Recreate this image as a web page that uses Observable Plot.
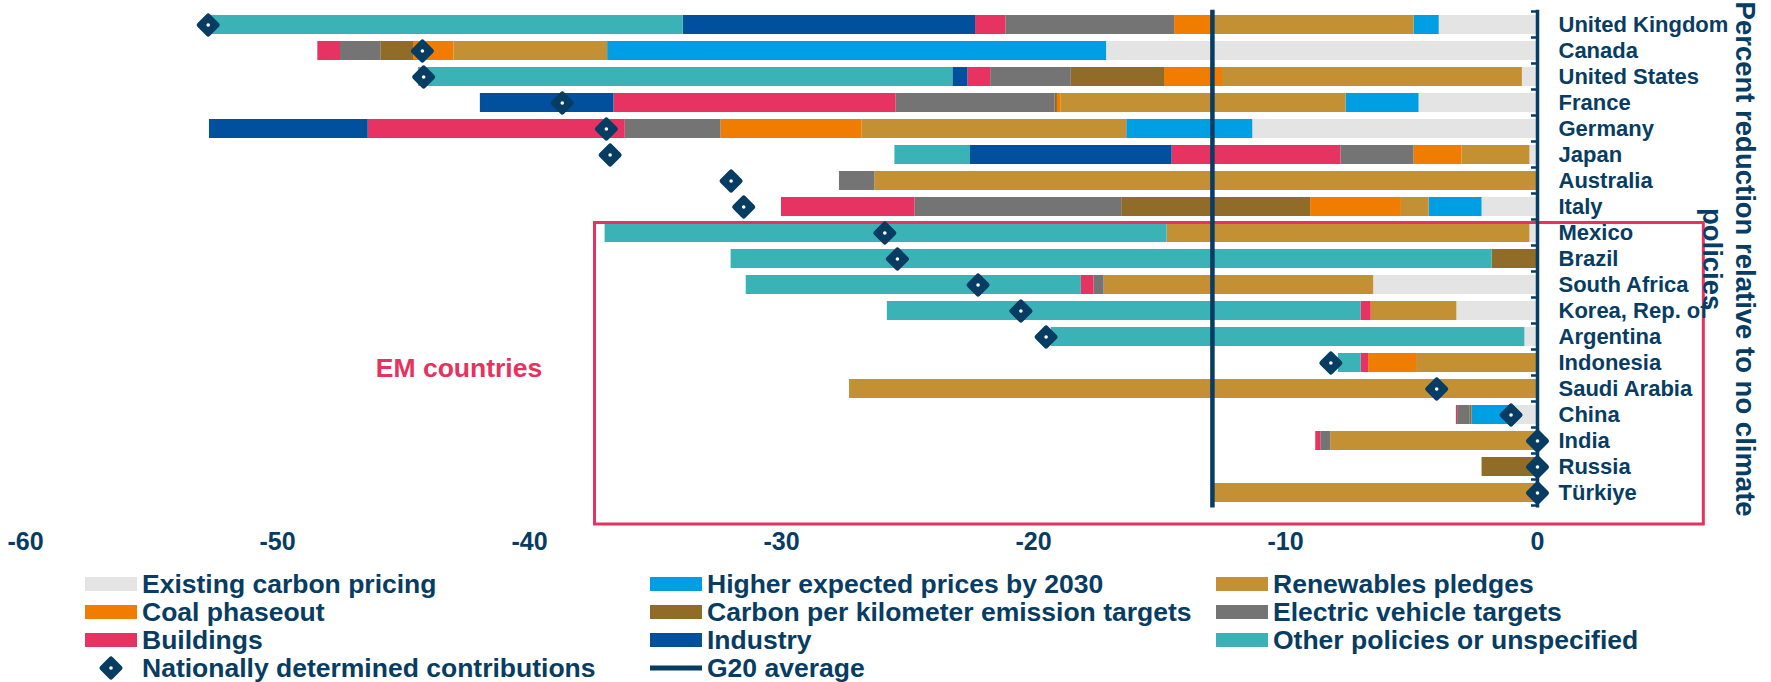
<!DOCTYPE html>
<html>
<head>
<meta charset="utf-8">
<script src="https://cdn.jsdelivr.net/npm/d3@7"></script>
<script src="https://cdn.jsdelivr.net/npm/@observablehq/plot@0.6"></script>
<style>
  html, body { margin: 0; padding: 0; background: #fff; overflow: hidden; }
  body { width: 1771px; height: 682px; font-family: "Liberation Sans", Arial, Helvetica, sans-serif; font-weight: bold; color: #073c63; }
  #chart svg { display: block; }
  #legend { position: relative; width: 1771px; height: 122px; }
  .item { position: absolute; height: 28px; display: flex; align-items: center; font-size: 26.5px; line-height: 28px; white-space: nowrap; }
  .sw { display: block; width: 52px; height: 14px; margin-right: 5px; flex: none; }
  .sym { width: 52px; height: 28px; margin-right: 5px; flex: none; display: block; }
</style>
</head>
<body>
<div id="chart"></div>
<div id="legend"></div>
<script>
// ---------------- data ----------------
const countries = ["United Kingdom", "Canada", "United States", "France", "Germany", "Japan", "Australia", "Italy",
  "Mexico", "Brazil", "South Africa", "Korea, Rep. of", "Argentina", "Indonesia", "Saudi Arabia", "China", "India", "Russia", "Türkiye"];

const categories = ["Existing carbon pricing", "Higher expected prices by 2030", "Renewables pledges",
  "Coal phaseout", "Carbon per kilometer emission targets", "Electric vehicle targets",
  "Buildings", "Industry", "Other policies or unspecified"];

const colors = ["#e4e4e4", "#009fe3", "#c39034", "#f07d00", "#916c29", "#747474", "#e63361", "#00509d", "#3ab2b6"];

// percent reduction relative to no climate policies, one value per country
const existingCarbonPricing = [-3.9, -17.1, -0.6, -4.7, -11.3, -0.3, 0, -2.2, -0.3, 0, -6.5, -3.2, -0.5, 0, 0, -1.0, 0, 0, 0];
const higherExpectedPrices  = [-1.0, -19.8, 0, -2.9, -5.0, 0, 0, -2.1, 0, 0, 0, 0, 0, 0, 0, -1.6, 0, 0, 0];
const renewablesPledges     = [-8.0, -6.1, -11.9, -11.3, -10.5, -2.7, -26.3, -1.1, -14.4, 0, -10.7, -3.4, 0, -4.8, -27.3, 0, -8.2, 0, -12.9];
const coalPhaseout          = [-1.5, -1.6, -2.3, -0.15, -5.6, -1.9, 0, -3.6, 0, 0, 0, 0, 0, -1.9, 0, 0, 0, 0, 0];
const carbonPerKm           = [0, -1.3, -3.7, -0.1, 0, 0, 0, -7.5, 0, -1.8, 0, 0, 0, 0, 0, -0.07, 0, -2.2, 0];
const evTargets             = [-6.7, -1.6, -3.2, -6.3, -3.8, -2.9, -1.4, -8.2, 0, 0, -0.4, 0, 0, 0, 0, -0.5, -0.4, 0, 0];
const buildings             = [-1.2, -0.9, -0.9, -11.2, -10.2, -6.7, 0, -5.3, 0, 0, -0.5, -0.4, 0, -0.3, 0, -0.05, -0.2, 0, 0];
const industry              = [-11.6, 0, -0.6, -5.3, -6.3, -8.0, 0, 0, 0, 0, 0, 0, 0, 0, 0, 0, 0, 0, 0];
const otherPolicies         = [-18.9, 0, -21.2, 0, 0, -3.0, 0, 0, -22.3, -30.2, -13.3, -18.8, -18.8, -0.9, 0, 0, 0, 0, 0];

const ndc = [-52.75, -44.25, -44.2, -38.7, -36.95, -36.8, -32.0, -31.5, -25.9, -25.4, -22.2, -20.5, -19.5, -8.2, -4.0, -1.05, 0, 0, 0];
const g20Average = -12.9;

const xTicks = [-60, -50, -40, -30, -20, -10, 0];
const emCountries = ["Mexico", "Brazil", "South Africa", "Korea, Rep. of", "Argentina", "Indonesia", "Saudi Arabia", "China", "India", "Russia", "Türkiye"];
const emLabel = "EM countries";
const emBoxX = [-37.4, 6.6];
const axisTitle = "Percent reduction relative to no climate\npolicies";
const ndcLabel = "Nationally determined contributions";
const g20Label = "G20 average";

// ---------------- build ----------------
const NAVY = "#073c63";
const PINK = "#e6325f";
const FONT = '"Liberation Sans", Arial, Helvetica, sans-serif';

const series = [existingCarbonPricing, higherExpectedPrices, renewablesPledges, coalPhaseout, carbonPerKm,
  evTargets, buildings, industry, otherPolicies];
const barData = [];
countries.forEach((c, i) => {
  series.forEach((s, k) => {
    if (s[i] !== 0) barData.push({country: c, category: categories[k], value: s[i]});
  });
});
const ndcData = countries.map((c, i) => ({country: c, ndc: ndc[i]}));

// rounded diamond symbol (half-diagonal = r)
const diamondSymbol = {
  draw(context, size) {
    const h = Math.sqrt(size / Math.PI);
    context.moveTo(0, -h); context.lineTo(h, 0); context.lineTo(0, h); context.lineTo(-h, 0); context.closePath();
  }
};

function findScales(args) {
  return args.find(a => a && typeof a.x === "function" && typeof a.y === "function");
}

// band-boundary tick marks on the right-hand axis
function boundaryTicks(...args) {
  const s = findScales(args);
  const g = d3.create("svg:g");
  if (!s) return g.node();
  const bw = s.y.bandwidth ? s.y.bandwidth() : 19.4;
  const st = s.y.step ? s.y.step() : 26.2;
  const half = (st - bw) / 2;
  const x0 = s.x(0);
  const ys = countries.map(c => s.y(c) - half);
  ys.push(s.y(countries[countries.length - 1]) + bw + half);
  g.selectAll("line").data(ys).join("line")
    .attr("x1", x0 - 6).attr("x2", x0).attr("y1", d => d).attr("y2", d => d)
    .attr("stroke", NAVY).attr("stroke-width", 2.5);
  return g.node();
}

// EM countries outline box
function emBox(...args) {
  const s = findScales(args);
  const g = d3.create("svg:g");
  if (!s) return g.node();
  const bw = s.y.bandwidth ? s.y.bandwidth() : 19.4;
  const top = s.y(emCountries[0]) - 0.5;
  const bottom = s.y(emCountries[emCountries.length - 1]) + bw + 22;
  const x1 = s.x(emBoxX[0]), x2 = s.x(emBoxX[1]);
  g.append("rect").attr("x", x1).attr("y", top).attr("width", x2 - x1).attr("height", bottom - top)
    .attr("fill", "none").attr("stroke", PINK).attr("stroke-width", 3);
  return g.node();
}

const plot = Plot.plot({
  width: 1771,
  height: 560,
  marginLeft: 25,
  marginRight: 234,
  marginTop: 9.7,
  marginBottom: 52.5,
  style: {fontFamily: FONT, fontWeight: "bold", color: NAVY, background: "white", overflow: "visible"},
  x: {domain: [-60, 0]},
  y: {domain: countries, paddingInner: 0.26, paddingOuter: 0.13},
  color: {domain: categories, range: colors},
  marks: [
    Plot.barX(barData, {x: "value", y: "country", fill: "category"}),
    emBox,
    Plot.ruleX([g20Average], {stroke: NAVY, strokeWidth: 4.5}),
    Plot.ruleX([0], {stroke: NAVY, strokeWidth: 3.5}),
    boundaryTicks,
    Plot.dot(ndcData, {x: "ndc", y: "country", symbol: diamondSymbol, r: 9, fill: NAVY, stroke: NAVY, strokeWidth: 5, strokeLinejoin: "round"}),
    Plot.dot(ndcData, {x: "ndc", y: "country", r: 1.8, fill: "white"}),
    Plot.text([emLabel], {x: -46.1, y: () => "Indonesia", dy: 6, textAnchor: "start", fill: PINK, fontSize: 26.5, fontWeight: "bold"}),
    Plot.text([axisTitle], {frameAnchor: "right", dx: 192.5, rotate: 90, fontSize: 27.5, lineHeight: 1.2, textAnchor: "middle", lineAnchor: "middle", fill: NAVY, fontWeight: "bold"}),
    Plot.axisX({ticks: xTicks, tickSize: 0, tickPadding: 24, fontSize: 25, tickFormat: d => String(d), label: null}),
    Plot.axisY({anchor: "right", tickSize: 0, tickPadding: 21, fontSize: 22, label: null})
  ]
});
document.getElementById("chart").appendChild(plot);

// ---------------- legend ----------------
const legend = document.getElementById("legend");
const colX = [85, 650, 1216];
const rowTop = [10, 38, 66, 94];
function addItem(row, col, swatchHTML, label) {
  const div = document.createElement("div");
  div.className = "item";
  div.style.left = colX[col] + "px";
  div.style.top = rowTop[row] + "px";
  div.innerHTML = swatchHTML + '<span class="lbl"></span>';
  div.querySelector(".lbl").textContent = label;
  legend.appendChild(div);
}
categories.forEach((cat, i) => {
  addItem(Math.floor(i / 3), i % 3, `<span class="sw" style="background:${colors[i]}"></span>`, cat);
});
addItem(3, 0, `<svg class="sym" viewBox="0 0 52 28"><path d="M26,5 L35,14 L26,23 L17,14 Z" fill="${NAVY}" stroke="${NAVY}" stroke-width="5" stroke-linejoin="round"/><circle cx="26" cy="14" r="1.8" fill="white"/></svg>`, ndcLabel);
addItem(3, 1, `<svg class="sym" viewBox="0 0 52 28"><line x1="0" x2="52" y1="14" y2="14" stroke="${NAVY}" stroke-width="5"/></svg>`, g20Label);
</script>
</body>
</html>
